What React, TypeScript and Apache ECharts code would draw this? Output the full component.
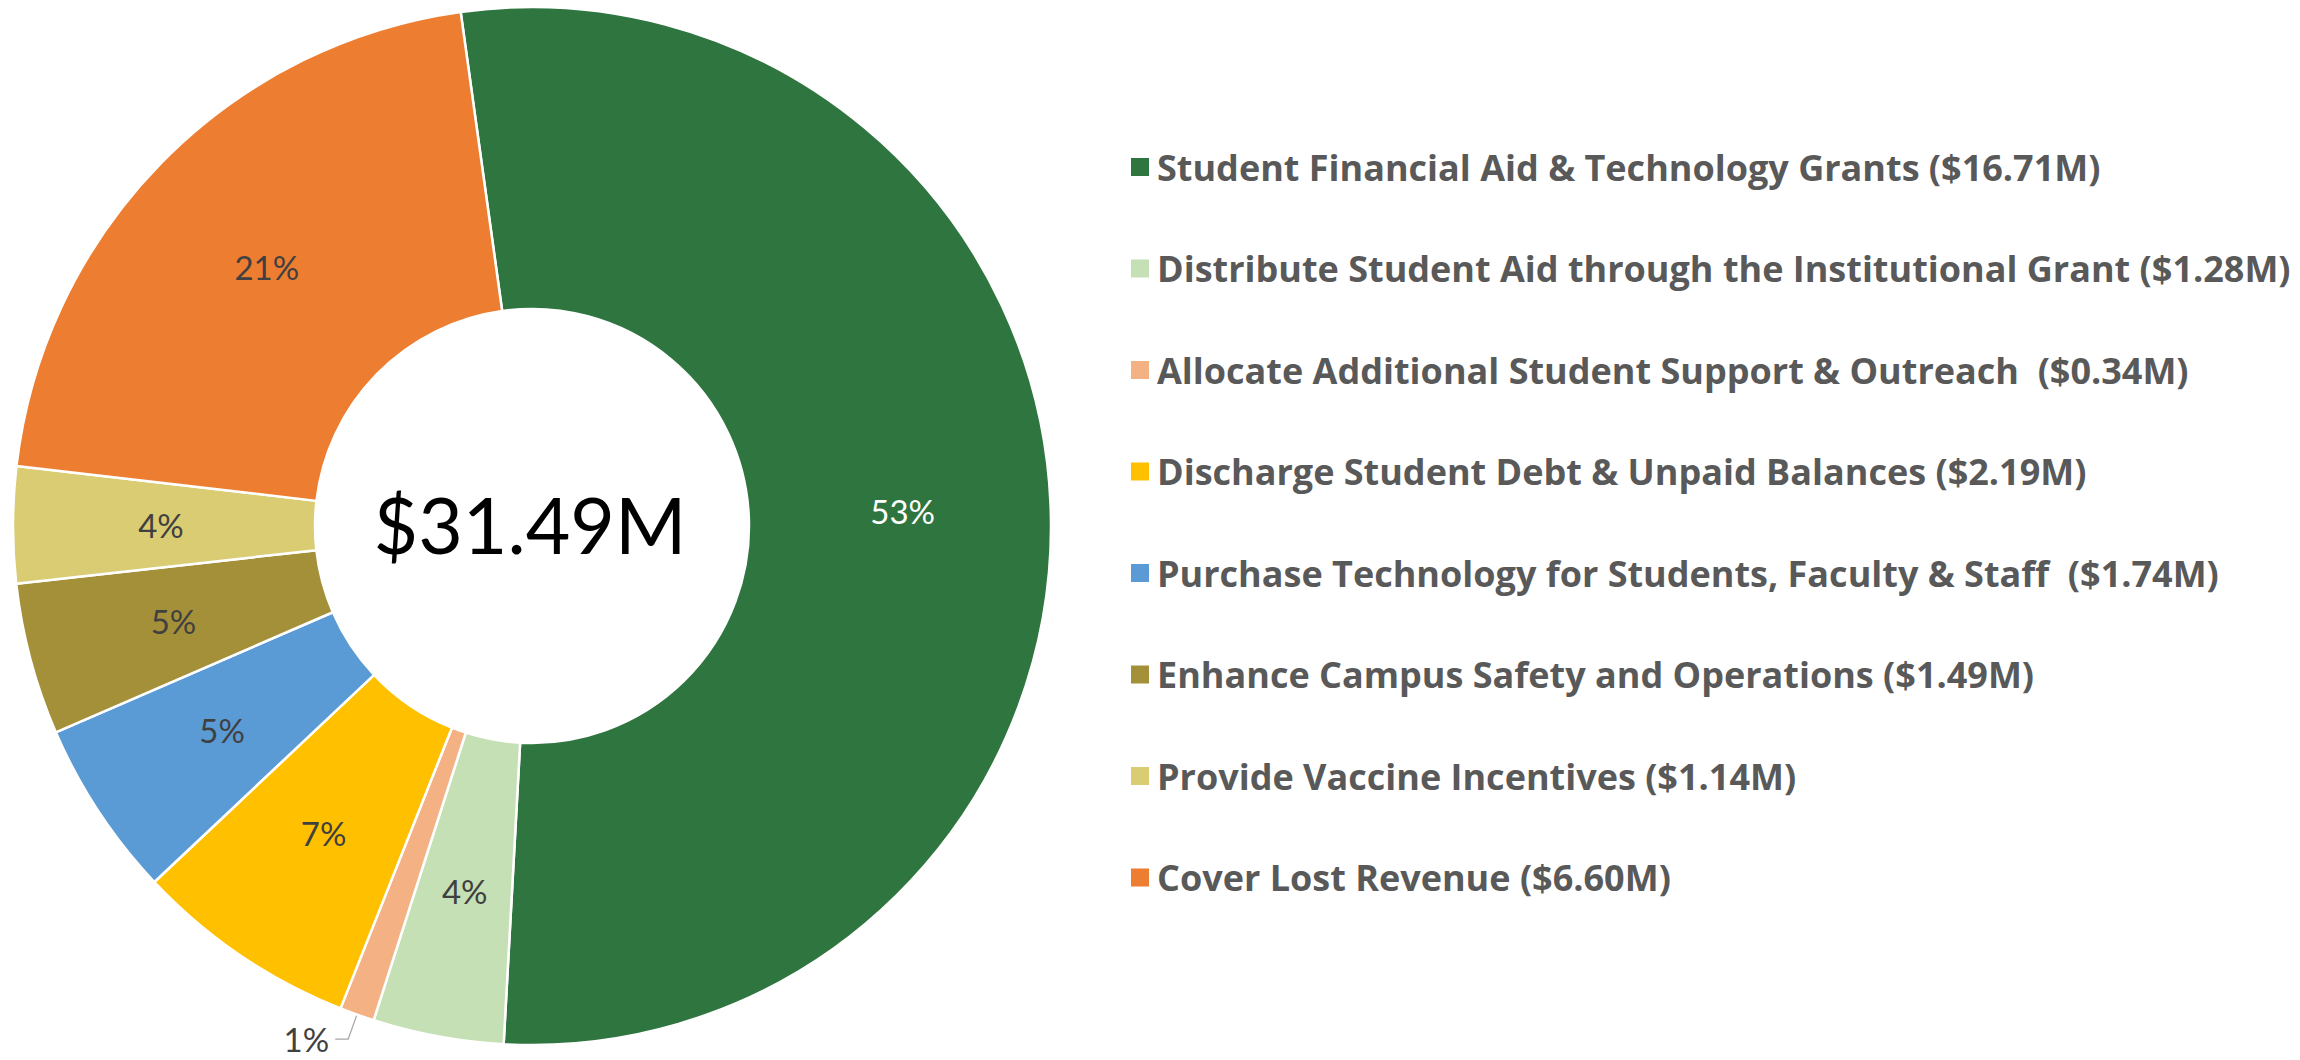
import React, { useEffect, useRef } from "react";
import * as echarts from "echarts";

const categories = [
  "Student Financial Aid & Technology Grants",
  "Distribute Student Aid through the Institutional Grant",
  "Allocate Additional Student Support & Outreach ",
  "Discharge Student Debt & Unpaid Balances",
  "Purchase Technology for Students, Faculty & Staff ",
  "Enhance Campus Safety and Operations",
  "Provide Vaccine Incentives",
  "Cover Lost Revenue",
];
const valuesM = [16.71, 1.28, 0.34, 2.19, 1.74, 1.49, 1.14, 6.6];
const percentLabels = ["53%", "4%", "1%", "7%", "5%", "5%", "4%", "21%"];
const colors = ["#2F7540", "#C5E0B4", "#F4B183", "#FFC000", "#5B9BD5", "#A5903A", "#D9CC73", "#ED7D31"];
const totalLabel = "$31.49M";

const FONT = "Lato, 'Open Sans', sans-serif";
const LEGEND_FONT = "'Open Sans', Lato, sans-serif";

export default function App() {
  const ref = useRef<HTMLDivElement>(null);
  useEffect(() => {
    if (!ref.current) return;
    const chart = echarts.init(ref.current, null, { renderer: "svg" });
    const data = categories.map((name, i) => {
      const item: any = {
        name,
        value: valuesM[i],
        itemStyle: { color: colors[i] },
        label: {
          formatter: percentLabels[i],
          color: i === 0 ? "#FFFFFF" : "#404040",
        },
      };
      if (i === 2) {
        item.label = {
          formatter: percentLabels[i],
          position: "outside",
          color: "#404040",
          lineHeight: 30,
          distanceToLabelLine: 6,
        };
        item.labelLine = {
          show: true,
          length: 26,
          length2: 13,
          lineStyle: { color: "#A6A6A6", width: 1.2 },
        };
      }
      return item;
    });
    chart.setOption({
      animation: false,
      backgroundColor: "#FFFFFF",
      legend: {
        orient: "vertical",
        left: 1124,
        top: 144,
        icon: "rect",
        itemWidth: 20,
        itemHeight: 20,
        itemGap: 65.5,
        selectedMode: false,
        data: categories,
        formatter: (name: string) => {
          const i = categories.indexOf(name);
          return name + " ($" + valuesM[i].toFixed(2) + "M)";
        },
        textStyle: {
          fontFamily: LEGEND_FONT,
          fontWeight: "bold",
          fontSize: 36,
          lineHeight: 34,
          color: "#595959",
          padding: [0, 0, 0, 2],
        },
      },
      graphic: [
        {
          type: "text",
          x: 530,
          y: 524,
          style: {
            text: totalLabel,
            fontFamily: FONT,
            fontSize: 77,
            fill: "#000000",
            align: "center",
            verticalAlign: "middle",
          },
        },
      ],
      series: [
        {
          type: "pie",
          center: [532, 526],
          radius: [217, 519],
          startAngle: 97.9,
          clockwise: true,
          avoidLabelOverlap: false,
          itemStyle: { borderColor: "#FFFFFF", borderWidth: 2.5 },
          label: {
            show: true,
            position: "inside",
            fontFamily: FONT,
            fontSize: 33,
          },
          labelLine: { show: false },
          emphasis: { disabled: true },
          data,
        },
      ],
    });
    return () => chart.dispose();
  }, []);
  return (
    <div
      ref={ref}
      style={{ position: "fixed", left: 0, top: 0, width: 2300, height: 1060 }}
    />
  );
}
